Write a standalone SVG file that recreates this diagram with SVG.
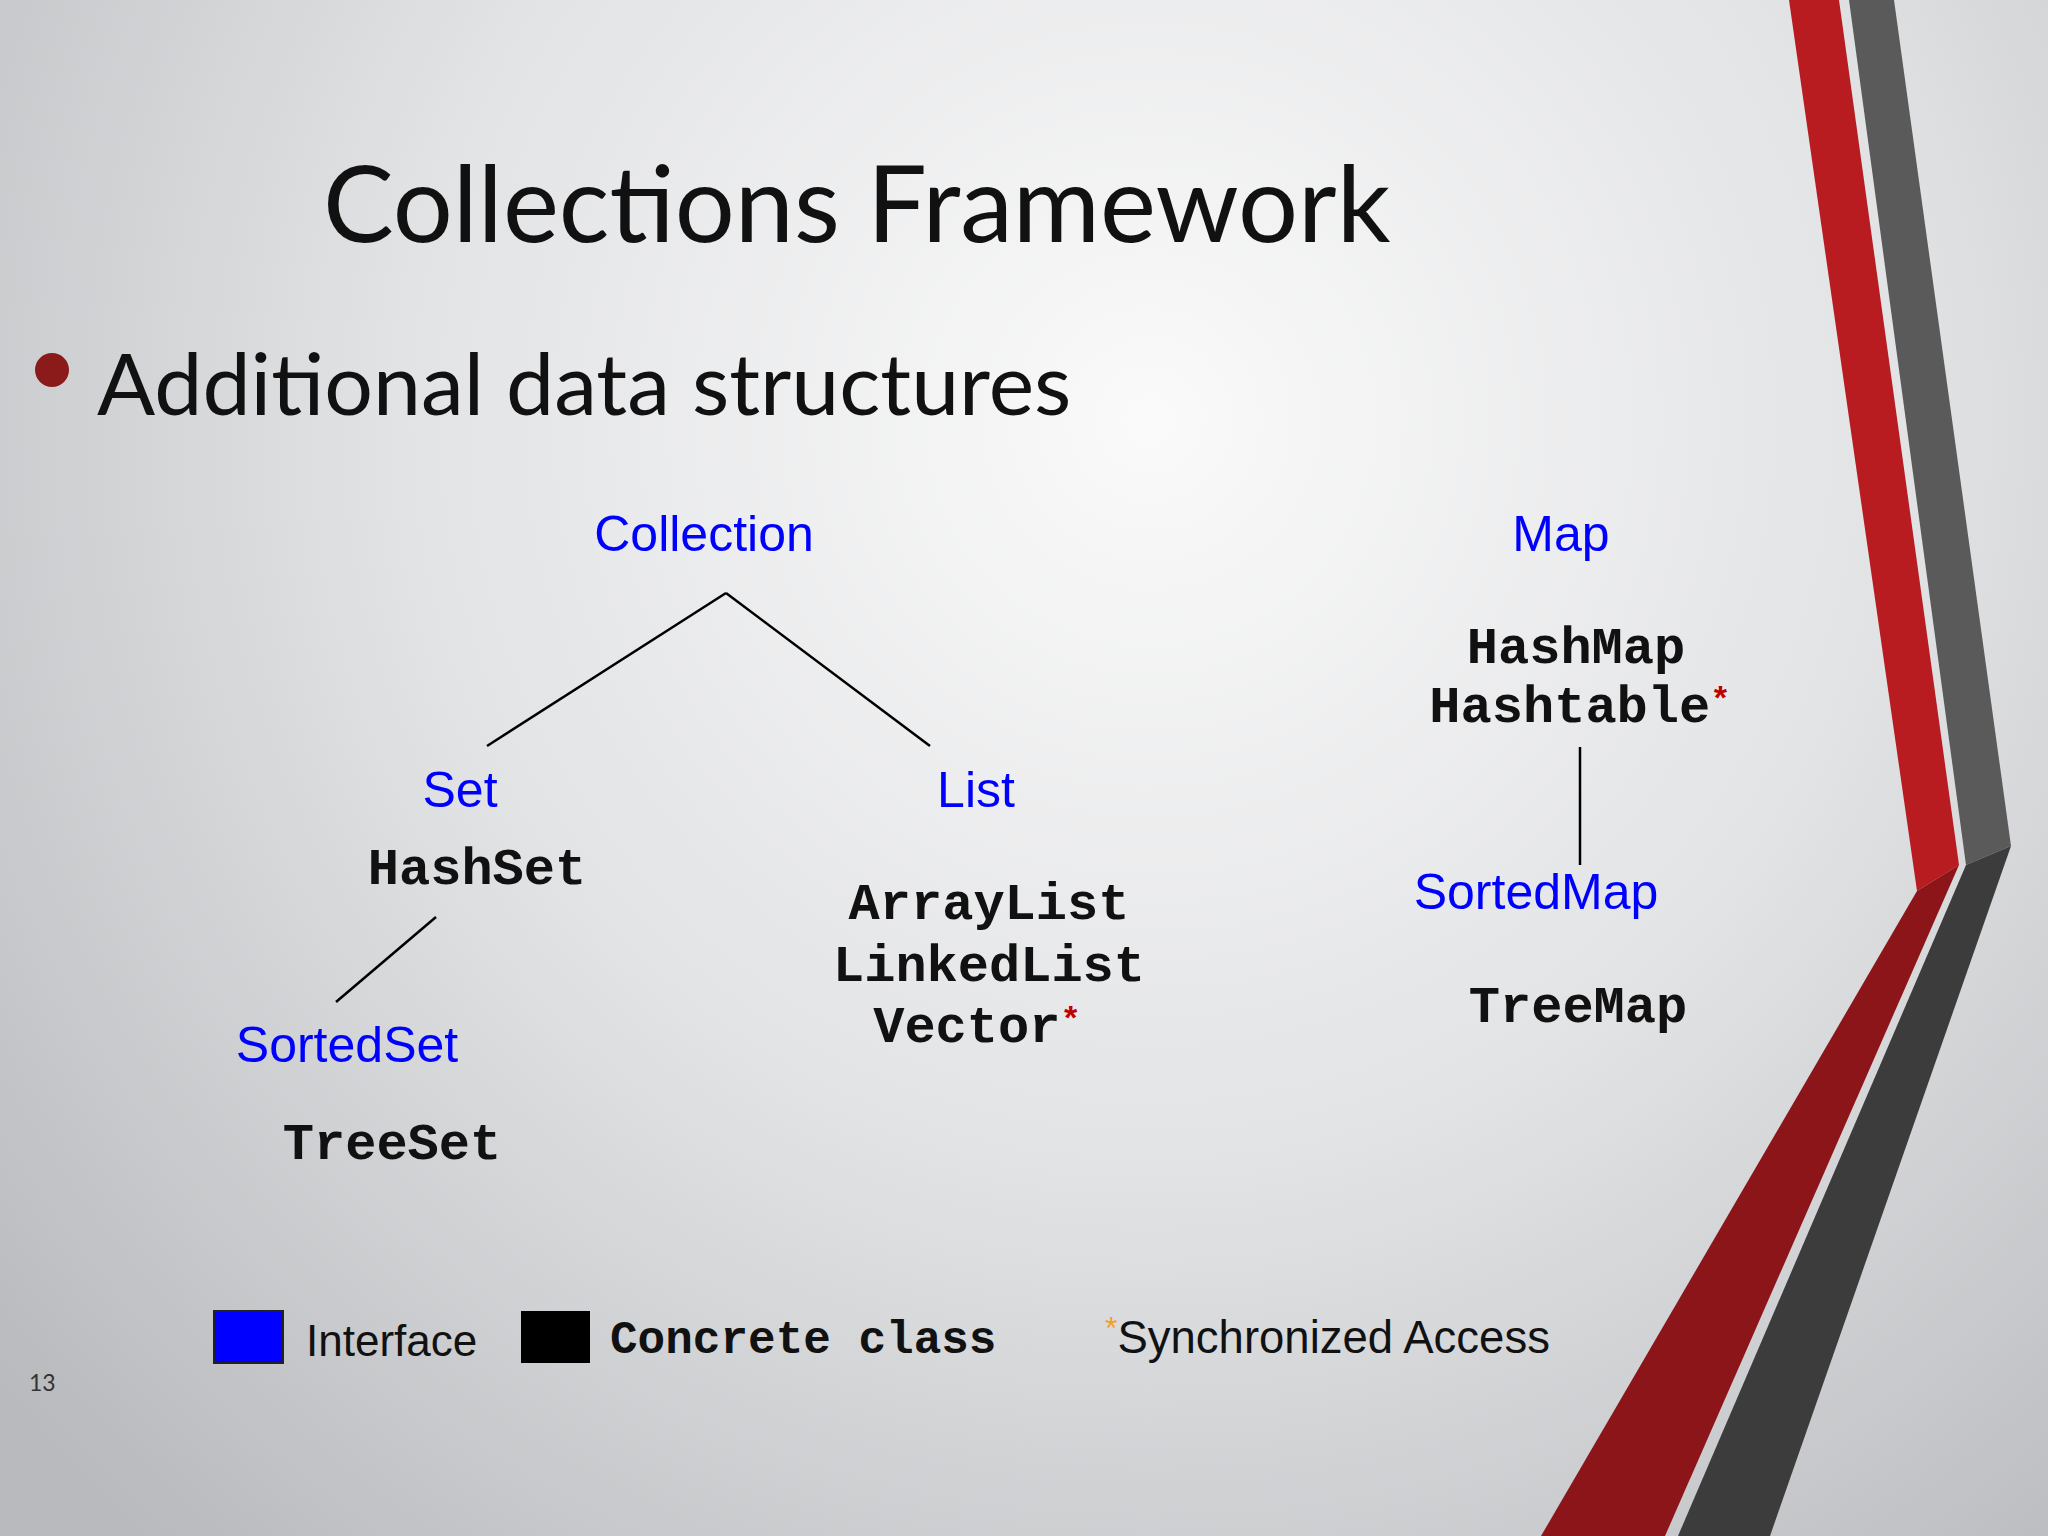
<svg xmlns="http://www.w3.org/2000/svg" width="2048" height="1536" viewBox="0 0 2048 1536">
<defs>
<radialGradient id="bg" cx="1150" cy="420" r="1500" gradientUnits="userSpaceOnUse">
<stop offset="0" stop-color="#fafafa"/><stop offset="0.5" stop-color="#e2e3e5"/><stop offset="1" stop-color="#b9babd"/>
</radialGradient>
<style>
.i{font-family:"Liberation Sans",Arial,sans-serif;font-size:50px;fill:#0000ff;text-anchor:middle}
.c{font-family:"Liberation Mono","Courier New",monospace;font-weight:bold;font-size:52px;fill:#111;text-anchor:middle}
.e{stroke:#000;stroke-width:2.5;fill:none}
.s{fill:#c00000}
</style>
</defs>
<rect width="2048" height="1536" fill="url(#bg)"/>
<g id="decor">
<polygon points="1789,0 1839,0 1959,865 1917,891" fill="#b81c20"/>
<polygon points="1917,891 1959,865 1665,1536 1541,1536" fill="#8b1518"/>
<polygon points="1849,0 1894,0 2011,846 1966,865" fill="#5a5a5a"/>
<polygon points="1966,865 2011,846 1770,1536 1678,1536" fill="#3c3c3c"/>
</g>
<text x="323" y="242" font-family="Lato,'Open Sans',sans-serif" font-size="106" fill="#111">Collections Framework</text>
<circle cx="52" cy="370" r="17" fill="#8b1a1a"/>
<text x="97" y="415" font-family="Lato,'Open Sans',sans-serif" font-size="86" fill="#111">Additional data structures</text>
<g id="connectors">
<line class="e" x1="726" y1="593" x2="487" y2="746"/>
<line class="e" x1="726" y1="593" x2="930" y2="746"/>
<line class="e" x1="436" y1="917" x2="336" y2="1002"/>
<line class="e" x1="1580" y1="747" x2="1580" y2="865"/>
</g>
<g id="collection"><text class="i" x="704" y="551">Collection</text></g>
<g id="set"><text class="i" x="460" y="807">Set</text><text class="c" x="477" y="884">HashSet</text></g>
<g id="list"><text class="i" x="976" y="807">List</text>
<text class="c" x="989" y="919">ArrayList</text><text class="c" x="989" y="981">LinkedList</text><text class="c" x="977" y="1042">Vector<tspan class="s" dy="-12" font-size="34">*</tspan></text></g>
<g id="sortedset"><text class="i" x="347" y="1062">SortedSet</text><text class="c" x="392" y="1159">TreeSet</text></g>
<g id="map"><text class="i" x="1561" y="551">Map</text><text class="c" x="1576" y="663">HashMap</text><text class="c" x="1580" y="722">Hashtable<tspan class="s" dy="-12" font-size="34">*</tspan></text></g>
<g id="sortedmap"><text class="i" x="1536" y="909">SortedMap</text><text class="c" x="1578" y="1022">TreeMap</text></g>
<g id="legend">
<rect x="214" y="1311" width="69" height="52" fill="#0000ff" stroke="#222" stroke-width="2"/>
<text x="306" y="1356" font-family="'Liberation Sans',Arial,sans-serif" font-size="44" fill="#111">Interface</text>
<rect x="521" y="1311" width="69" height="52" fill="#000"/>
<text x="610" y="1353" font-family="'Liberation Mono','Courier New',monospace" font-weight="bold" font-size="46" fill="#111">Concrete class</text>
<text x="1105" y="1353" font-family="'Liberation Sans',Arial,sans-serif" font-size="45.5" fill="#111"><tspan fill="#f0a030" font-size="32" dy="-14">*</tspan><tspan dy="14">Synchronized Access</tspan></text>
</g>
<text x="29" y="1391" font-family="Lato,sans-serif" font-size="23" fill="#333">13</text>
</svg>
